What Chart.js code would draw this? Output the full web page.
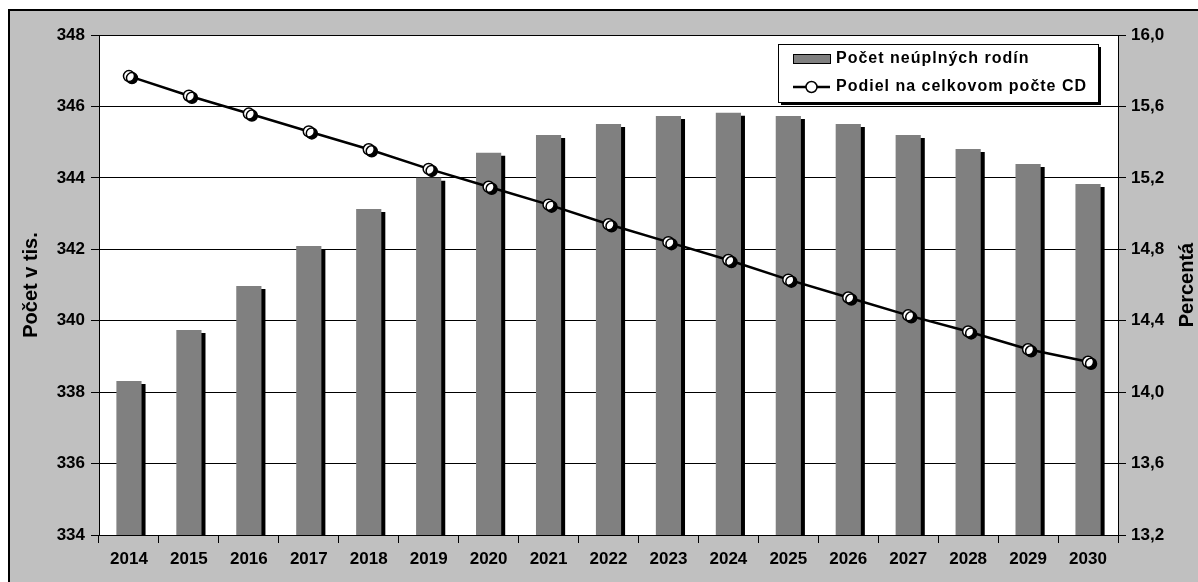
<!DOCTYPE html>
<html>
<head>
<meta charset="utf-8">
<script src="https://cdn.jsdelivr.net/npm/chart.js@4.4.1/dist/chart.umd.min.js"></script>
<style>
  body { margin: 0; background: #fff; }
  #wrap { width: 1198px; height: 582px; }
</style>
</head>
<body>
<div id="wrap"><canvas id="myChart" width="1198" height="582"></canvas></div>
<script>
// data
var years = ['2014', '2015', '2016', '2017', '2018', '2019', '2020', '2021', '2022',
  '2023', '2024', '2025', '2026', '2027', '2028', '2029', '2030']
var familyCount = [338.31, 339.74, 340.97, 342.09, 343.13, 344.0, 344.7, 345.2, 345.51,
  345.73, 345.82, 345.73, 345.51, 345.2, 344.81, 344.39, 343.83]
var shareOfAll = [15.77, 15.66, 15.56, 15.46, 15.36, 15.25, 15.15, 15.05, 14.94,
  14.84, 14.74, 14.63, 14.53, 14.43, 14.34, 14.24, 14.17]
var leftTicks = [334, 336, 338, 340, 342, 344, 346, 348]
var rightTicks = [13.2, 13.6, 14.0, 14.4, 14.8, 15.2, 15.6, 16.0]

var barLabel = 'Počet neúplných rodín'
var lineLabel = 'Podiel na celkovom počte CD'
var leftTitle = 'Počet v tis.'
var rightTitle = 'Percentá'

var FONT = "'Liberation Sans', Arial, sans-serif"
var tickFont = { family: FONT, size: 17, weight: 'bold' }

// gray frame + white plot background
const backdrop = {
  id: 'backdrop',
  beforeDraw(chart) {
    const { ctx, chartArea } = chart
    ctx.save()
    ctx.fillStyle = '#fff'
    ctx.fillRect(0, 0, chart.width, chart.height)
    ctx.fillStyle = '#c0c0c0'
    ctx.fillRect(9, 10, chart.width, chart.height)
    ctx.strokeStyle = '#000'
    ctx.lineWidth = 2
    ctx.strokeRect(9, 10, chart.width + 10, chart.height + 10)
    ctx.fillStyle = '#fff'
    ctx.fillRect(chartArea.left, chartArea.top, chartArea.right - chartArea.left, chartArea.bottom - chartArea.top)
    ctx.restore()
  },
}

// black drop shadow on bars and markers
const shadows = {
  id: 'shadows',
  beforeDatasetDraw(chart, args) {
    const ds = chart.data.datasets[args.index]
    if (!ds.shadow) return
    chart.ctx.save()
    chart.ctx.shadowColor = '#000'
    chart.ctx.shadowBlur = 0
    chart.ctx.shadowOffsetX = ds.shadow
    chart.ctx.shadowOffsetY = ds.shadow - 1
  },
  afterDatasetDraw(chart, args) {
    const ds = chart.data.datasets[args.index]
    if (ds.shadow) chart.ctx.restore()
  },
}

// legend box inside the plot + right axis title
const extras = {
  id: 'extras',
  afterDraw(chart) {
    const { ctx, chartArea } = chart
    const bx = chartArea.right - 340, by = chartArea.top + 9, bw = 320, bh = 58
    ctx.save()
    ctx.fillStyle = '#000'
    ctx.fillRect(bx + 3, by + 3, bw, bh)
    ctx.fillStyle = '#fff'
    ctx.fillRect(bx, by, bw, bh)
    ctx.strokeStyle = '#000'
    ctx.lineWidth = 1
    ctx.strokeRect(bx + 0.5, by + 0.5, bw, bh)

    ctx.fillStyle = '#808080'
    ctx.fillRect(bx + 15, by + 10, 37, 9)
    ctx.strokeRect(bx + 15.5, by + 10.5, 37, 9)

    ctx.beginPath()
    ctx.lineWidth = 2.5
    ctx.moveTo(bx + 15, by + 43)
    ctx.lineTo(bx + 52, by + 43)
    ctx.stroke()
    ctx.beginPath()
    ctx.arc(bx + 33.5, by + 43, 5.5, 0, Math.PI * 2)
    ctx.fillStyle = '#fff'
    ctx.fill()
    ctx.lineWidth = 1.5
    ctx.stroke()

    ctx.fillStyle = '#000'
    ctx.font = 'bold 16px ' + FONT
    if ('letterSpacing' in ctx) ctx.letterSpacing = '1px'
    ctx.textBaseline = 'middle'
    ctx.textAlign = 'left'
    ctx.fillText(barLabel, bx + 58, by + 15)
    ctx.fillText(lineLabel, bx + 58, by + 43)
    if ('letterSpacing' in ctx) ctx.letterSpacing = '0px'

    ctx.font = 'bold 20px ' + FONT
    ctx.textAlign = 'center'
    ctx.translate(1187, (chartArea.top + chartArea.bottom) / 2)
    ctx.rotate(-Math.PI / 2)
    ctx.fillText(rightTitle, 0, 0)
    ctx.restore()
  },
}

let ctx = document.getElementById('myChart').getContext('2d')
let myChart = new Chart(ctx, {
  type: 'bar',
  data: {
    labels: years,
    datasets: [
      {
        // markers only, drawn on top
        type: 'line',
        label: lineLabel,
        data: shareOfAll,
        yAxisID: 'y1',
        showLine: false,
        pointRadius: 5.5,
        pointBackgroundColor: '#fff',
        pointBorderColor: '#000',
        pointBorderWidth: 1.5,
        shadow: 3,
        order: 0,
      },
      {
        type: 'line',
        label: lineLabel,
        data: shareOfAll,
        yAxisID: 'y1',
        borderColor: '#000',
        borderWidth: 2.5,
        pointRadius: 0,
        tension: 0,
        order: 1,
      },
      {
        label: barLabel,
        data: familyCount,
        yAxisID: 'y',
        backgroundColor: '#808080',
        borderWidth: 0,
        barPercentage: 0.42,
        categoryPercentage: 1,
        shadow: 4,
        order: 2,
      },
    ],
  },
  options: {
    responsive: false,
    animation: false,
    layout: { padding: { top: 35, left: 0, right: 0, bottom: 0 } },
    plugins: {
      legend: { display: false },
      tooltip: { enabled: false },
    },
    scales: {
      x: {
        grid: { drawOnChartArea: false, color: '#000', tickLength: 8 },
        border: { color: '#000', width: 1 },
        ticks: { color: '#000', font: tickFont, padding: 6, maxRotation: 0 },
        afterFit: (s) => { s.height = 47 },
      },
      y: {
        position: 'left',
        min: 334,
        max: 348,
        afterBuildTicks: (s) => { s.ticks = leftTicks.map((v) => ({ value: v })) },
        grid: { color: '#000', lineWidth: 1, tickLength: 8 },
        border: { color: '#000', width: 1 },
        ticks: { color: '#000', font: tickFont, padding: 6 },
        title: {
          display: true,
          text: leftTitle,
          color: '#000',
          font: { family: FONT, size: 20, weight: 'bold' },
          padding: { top: 19, bottom: 0 },
        },
        afterFit: (s) => { s.width = 99 },
      },
      y1: {
        position: 'right',
        min: 13.2,
        max: 16.0,
        afterBuildTicks: (s) => { s.ticks = rightTicks.map((v) => ({ value: v })) },
        grid: { drawOnChartArea: false, color: '#000', tickLength: 8 },
        border: { color: '#000', width: 1 },
        ticks: {
          color: '#000',
          font: tickFont,
          padding: 5,
          callback: (v) => v.toFixed(1).replace('.', ','),
        },
        afterFit: (s) => { s.width = 80 },
      },
    },
  },
  plugins: [backdrop, shadows, extras],
})
</script>
</body>
</html>
